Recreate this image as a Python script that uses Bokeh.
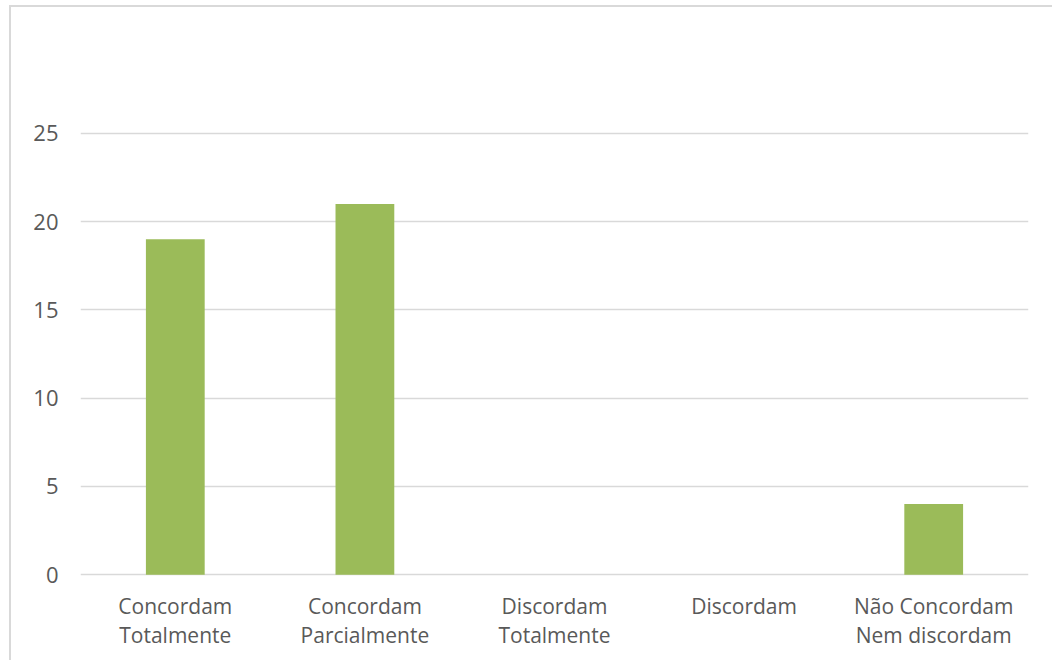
from bokeh.plotting import figure
from bokeh.models import FixedTicker
from bokeh.embed import file_html
from bokeh.resources import INLINE

categories = ["Concordam\nTotalmente", "Concordam\nParcialmente", "Discordam\nTotalmente",
              "Discordam", "Não Concordam\nNem discordam"]
values = [19, 21, 0, 0, 4]
y_ticks = [0, 5, 10, 15, 20, 25]

FONT = "Open Sans"
TXT = "#595959"
GRID = "#d9d9d9"

OX, OY, BW = 9, 5, 2  # outer chart border offset / width
H = 662 - OY - BW     # figure height

p = figure(width=1054 - OX - BW, height=H, x_range=categories, y_range=(-0.1, 25.1),
           output_backend="svg", toolbar_location=None,
           min_border_left=80 - OX - BW, min_border_right=26, min_border_top=131 - OY - BW,
           min_border_bottom=H + OY + BW - 576)
p.margin = (OY, 0, 0, OX)
p.styles = {"border-top": f"{BW}px solid {GRID}", "border-left": f"{BW}px solid {GRID}"}
p.outline_line_color = None
p.background_fill_color = "white"
p.border_fill_color = "white"

p.vbar(x=categories, top=values, width=0.31, color="#9bbb59", line_color=None)

p.xgrid.grid_line_color = None
p.ygrid.grid_line_color = GRID
p.ygrid.grid_line_width = 1.5
p.ygrid.ticker = FixedTicker(ticks=y_ticks)

p.yaxis.ticker = FixedTicker(ticks=y_ticks)
p.yaxis.axis_line_color = None
p.yaxis.major_tick_line_color = None
p.yaxis.minor_tick_line_color = None
p.yaxis.major_tick_out = 0
p.yaxis.major_label_standoff = 22
p.yaxis.major_label_text_font = FONT
p.yaxis.major_label_text_font_size = "22px"
p.yaxis.major_label_text_color = TXT

p.xaxis.axis_line_color = None
p.xaxis.major_tick_line_color = None
p.xaxis.major_tick_out = 0
p.xaxis.major_label_standoff = 15
p.xaxis.major_label_text_font = FONT
p.xaxis.major_label_text_font_size = "21px"
p.xaxis.major_label_text_color = TXT
p.xaxis.major_label_text_line_height = 1.05

open("out.html", "w").write(file_html(p, INLINE))
